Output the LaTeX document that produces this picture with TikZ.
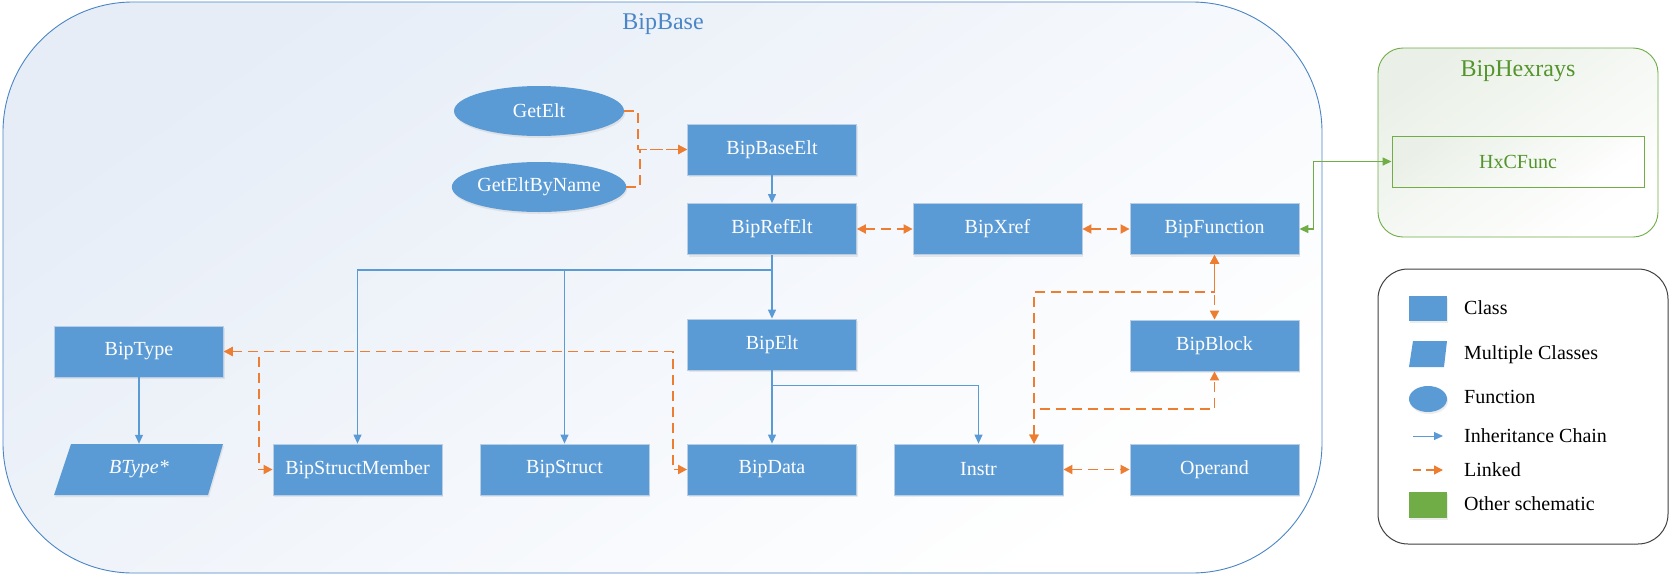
\documentclass[tikz,border=0pt]{standalone}
\usepackage{fontspec}
\setmainfont{LiberationSerif-Regular.ttf}[ItalicFont=LiberationSerif-Italic.ttf]
\usetikzlibrary{arrows.meta,shapes.geometric,shadows}

\definecolor{boxblue}{RGB}{91,155,213}
\definecolor{boxedge}{RGB}{185,205,228}
\definecolor{lnkorange}{RGB}{237,125,49}
\definecolor{inhblue}{RGB}{91,155,213}
\definecolor{grn}{RGB}{112,173,71}
\definecolor{grntext}{RGB}{84,148,44}
\definecolor{ttlblue}{RGB}{74,134,198}
\definecolor{bgblue}{RGB}{230,237,247}
\definecolor{bggreen}{RGB}{234,240,231}
\definecolor{legedge}{RGB}{64,64,64}

\begin{document}
\begin{tikzpicture}[x=1pt,y=-1pt,
  font=\fontsize{20}{24}\selectfont,
  cls/.style={rectangle, fill=boxblue, draw=boxedge, line width=0.8pt,
    minimum width=169pt, minimum height=51pt, inner sep=0pt, text=white,
    drop shadow={opacity=0.15, shadow xshift=1pt, shadow yshift=-2pt}},
  fn/.style={ellipse, fill=boxblue, inner sep=0pt, text=white,
    minimum width=170pt, minimum height=50pt,
    drop shadow={opacity=0.15, shadow xshift=1pt, shadow yshift=-2pt}},
  txtonly/.style={rectangle, inner sep=0pt, text=white,
    minimum width=169pt, minimum height=51pt},
  inh/.style={draw=inhblue, line width=1.2pt, -{Triangle[length=9pt,width=8pt]}},
  lnk/.style={draw=lnkorange, line width=1.8pt, dash pattern=on 10pt off 6pt,
    -{Triangle[length=9pt,width=9pt]}},
  lnkb/.style={draw=lnkorange, line width=1.8pt, dash pattern=on 10pt off 6pt,
    {Triangle[length=9pt,width=9pt]}-{Triangle[length=9pt,width=9pt]}},
  grnlink/.style={draw=grn, line width=1.4pt,
    {Triangle[length=9pt,width=8pt]}-{Triangle[length=9pt,width=8pt]}},
  title/.style={font=\fontsize{24}{28}\selectfont, inner sep=0pt, anchor=base},
  legtxt/.style={text=black, inner sep=0pt, anchor=base west},
]
% page
\path[fill=white] (0,0) rectangle (1676,576);

% containers
\node[draw=ttlblue, line width=0.9pt, rounded corners=130pt,
  minimum width=1319pt, minimum height=571pt, inner sep=0pt,
  top color=bgblue, bottom color=white, shading angle=35] (bipbase) at (662.5,287.5) {};
\node[title, text=ttlblue] (bipbasetitle) at (663,29) {BipBase};

\node[draw=grn, line width=0.9pt, rounded corners=25pt,
  minimum width=280pt, minimum height=189pt, inner sep=0pt,
  top color=bggreen, bottom color=white, shading angle=35] (biphex) at (1518,142.5) {};
\node[title, text=grntext] (biphextitle) at (1518,76) {BipHexrays};
\node[draw=grn, line width=0.9pt, minimum width=252pt, minimum height=51pt, inner sep=0pt,
  top color=bggreen, bottom color=white, shading angle=35, text=grntext] (hxcfunc) at (1518,161.5) {HxCFunc};

\node[draw=legedge, line width=1pt, rounded corners=30pt, fill=white,
  minimum width=290pt, minimum height=275pt, inner sep=0pt] (legend) at (1523,406.5) {};

% functions
\node[fn] (getelt) at (539,111) {GetElt};
\node[fn] (getbyname) at (539,187) {GetEltByName};

% classes
\node[cls] (bipbaseelt) at (772,149.5) {BipBaseElt};
\node[cls] (biprefelt) at (772,229) {BipRefElt};
\node[cls] (bipxref) at (997.5,229) {BipXref};
\node[cls] (bipfunction) at (1214.5,229) {BipFunction};
\node[cls] (biptype) at (139,351.5) {BipType};
\node[cls] (bipelt) at (772,344.5) {BipElt};
\node[cls] (bipblock) at (1214.5,345.5) {BipBlock};
\node[cls] (bsm) at (357.5,469.5) {BipStructMember};
\node[cls] (bipstruct) at (564.5,469.5) {BipStruct};
\node[cls] (bipdata) at (772,469.5) {BipData};
\node[cls] (instr) at (978.5,469.5) {Instr};
\node[cls] (operand) at (1214.5,469.5) {Operand};

% multiple classes (parallelogram)
\fill[boxblue, drop shadow={opacity=0.15, shadow xshift=1pt, shadow yshift=-2pt}]
  (71,444) -- (223,444) -- (208,495) -- (54,495) -- cycle;
\node[txtonly] (btype) at (139,469.5) {\itshape BType*};

% inheritance
\draw[inh] (bipbaseelt.south) -- (biprefelt.north);
\draw[inh] (biprefelt.south) -- (bipelt.north);
\draw[inh] (biprefelt.south) -- ++(0,15) -| (bsm.north);
\draw[inh] (biprefelt.south) -- ++(0,15) -| (bipstruct.north);
\draw[inh] (biptype.south) -- (btype.north);
\draw[inh] (bipelt.south) -- (bipdata.north);
\draw[inh] (bipelt.south) -- ++(0,15) -| (instr.north);

% links
\draw[lnk] (getelt.east) -- ++(14,0) |- (bipbaseelt.west);
\draw[lnk] (getbyname.east) -- ++(14,0) |- (bipbaseelt.west);
\draw[lnkb] (biprefelt.east) -- (bipxref.west);
\draw[lnkb] (bipxref.east) -- (bipfunction.west);
\draw[lnkb] (biptype.east) -- ++(35,0) |- (bsm.west);
\draw[lnkb] (biptype.east) -- ++(449,0) |- (bipdata.west);
\draw[lnkb] (bipfunction.south) -- (bipblock.north);
\draw[lnkb] ([xshift=55.5pt]instr.north) -- ++(0,-152) -| (bipfunction.south);
\draw[lnkb] ([xshift=55.5pt]instr.north) -- ++(0,-35) -| (bipblock.south);
\draw[lnkb] (instr.east) -- (operand.west);
\draw[grnlink] (bipfunction.east) -- ++(14,0) |- (hxcfunc.west);

% legend
\node[rectangle, fill=boxblue, minimum width=38pt, minimum height=25pt, inner sep=0pt,
  drop shadow={opacity=0.15, shadow xshift=1pt, shadow yshift=-2pt}] (lgclass) at (1428,308.5) {};
\fill[boxblue] (1413,341) -- (1447,341) -- (1444,367) -- (1409,367) -- cycle;
\node[ellipse, fill=boxblue, minimum width=38pt, minimum height=26pt, inner sep=0pt,
  drop shadow={opacity=0.15, shadow xshift=1pt, shadow yshift=-2pt}] (lgfn) at (1428,399) {};
\coordinate (lgi1) at (1413,436);
\coordinate (lgi2) at (1443,436);
\draw[inh, line width=1pt] (lgi1) -- (lgi2);
\coordinate (lgl1) at (1413,470);
\coordinate (lgl2) at (1443,470);
\draw[lnk, line width=1.5pt, dash pattern=on 8pt off 5pt] (lgl1) -- (lgl2);
\node[rectangle, fill=grn, minimum width=38pt, minimum height=26pt, inner sep=0pt,
  drop shadow={opacity=0.15, shadow xshift=1pt, shadow yshift=-2pt}] (lgother) at (1428,505) {};

\node[legtxt] (lt1) at (1464,314.5) {Class};
\node[legtxt] (lt2) at (1464,359.5) {Multiple Classes};
\node[legtxt] (lt3) at (1464,403.5) {Function};
\node[legtxt] (lt4) at (1464,442.5) {Inheritance Chain};
\node[legtxt] (lt5) at (1464,476.5) {Linked};
\node[legtxt] (lt6) at (1464,510) {Other schematic};
\end{tikzpicture}
\end{document}
